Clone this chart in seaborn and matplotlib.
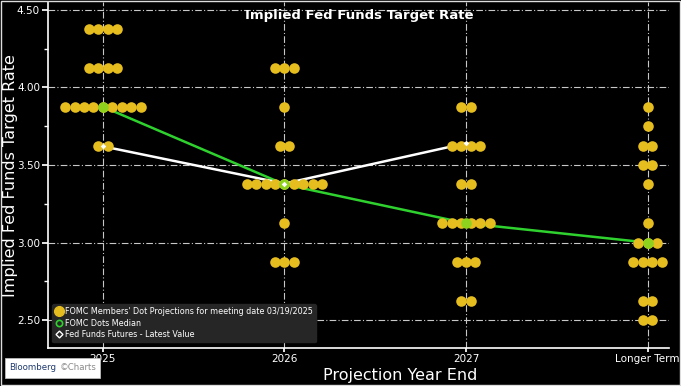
import numpy as np
import pandas as pd
import matplotlib
matplotlib.use("Agg")
import matplotlib.pyplot as plt
from matplotlib.lines import Line2D
import seaborn as sns

# Dot plot data (rate -> number of FOMC members)
categories = ["2025", "2026", "2027", "Longer Term"]
dots_2025 = {4.375: 4, 4.125: 4, 3.875: 9, 3.625: 2}
dots_2026 = {4.125: 3, 3.875: 1, 3.625: 2, 3.375: 9, 3.125: 1, 2.875: 3}
dots_2027 = {3.875: 2, 3.625: 4, 3.375: 2, 3.125: 6, 2.875: 3, 2.625: 2}
dots_longer = {3.875: 1, 3.75: 1, 3.625: 2, 3.5: 2, 3.375: 1, 3.125: 1,
               3.0: 3, 2.875: 4, 2.625: 2, 2.5: 2}
median_values = [3.875, 3.375, 3.125, 3.0]
futures_cats = ["2025", "2026", "2027"]
futures_values = [3.62, 3.38, 3.64]
yticks = [2.50, 3.00, 3.50, 4.00, 4.50]

gold = "#E5BD1F"
green = "#2FD12F"
dot_step = 0.052

rows = []
for i, d in enumerate([dots_2025, dots_2026, dots_2027, dots_longer]):
    for rate, n in d.items():
        for k in range(n):
            rows.append({"x": i + (k - (n - 1) / 2) * dot_step, "rate": rate})
dots = pd.DataFrame(rows)
med = pd.DataFrame({"x": range(len(categories)), "rate": median_values})
fut = pd.DataFrame({"x": [categories.index(c) for c in futures_cats], "rate": futures_values})

sns.set_theme(style="dark")
plt.rcParams["font.family"] = ["DejaVu Sans"]

fig = plt.figure(figsize=(6.81, 3.86), dpi=100, facecolor="black")
ax = fig.add_axes([0.071, 0.098, 0.912, 0.897])
ax.set_facecolor("black")

ax.grid(True, color="#C8C8C8", linestyle=(0, (6, 2, 1, 2)), linewidth=0.8)
ax.set_axisbelow(True)

sns.lineplot(data=med, x="x", y="rate", color=green, linewidth=1.8, ax=ax, zorder=2)
sns.lineplot(data=fut, x="x", y="rate", color="white", linewidth=1.8, ax=ax, zorder=2)
sns.scatterplot(data=dots, x="x", y="rate", color=gold, s=58, linewidth=0, ax=ax, zorder=3)
sns.scatterplot(data=med, x="x", y="rate", color="#8FD21E", s=58, linewidth=0, ax=ax, zorder=4)
sns.scatterplot(data=fut, x="x", y="rate", color="white", marker="D", s=8,
                linewidth=0, ax=ax, zorder=5)

ax.set_xlim(-0.3, 3.12)
ax.set_ylim(2.32, 4.55)
ax.set_xticks(range(len(categories)))
ax.set_xticklabels(categories)
ax.set_yticks(yticks)
ax.set_yticklabels([f"{v:.2f}" for v in yticks])
ax.set_yticks([2.75, 3.25, 3.75, 4.25], minor=True)
ax.tick_params(axis="both", colors="white", labelsize=7.5, length=4, direction="out",
               left=True, bottom=True, pad=2)
ax.tick_params(axis="x", length=3, pad=1)
ax.tick_params(axis="y", which="minor", colors="white", length=3, left=True)
for s in ["top", "right"]:
    ax.spines[s].set_visible(False)
for s in ["left", "bottom"]:
    ax.spines[s].set_color("white")
    ax.spines[s].set_linewidth(1.2)

ax.set_xlabel("")
ax.set_ylabel("")
fig.text(0.016, 0.545, "Implied Fed Funds Target Rate", rotation=90, color="white",
         fontsize=11.5, ha="center", va="center")
fig.text(0.588, 0.028, "Projection Year End", color="white", fontsize=11.5,
         ha="center", va="center")
ax.text(0.5, 0.962, "Implied Fed Funds Target Rate", transform=ax.transAxes,
        color="white", fontsize=9.5, fontweight="bold", ha="center", va="center")

handles = [
    Line2D([], [], marker="o", color=gold, linestyle="", markersize=7),
    Line2D([], [], marker="o", markerfacecolor="none", markeredgecolor=green,
           linestyle="", markersize=4.5, markeredgewidth=1.2),
    Line2D([], [], marker="D", markerfacecolor="none", markeredgecolor="white",
           linestyle="", markersize=3.5, markeredgewidth=1),
]
labels = ["FOMC Members' Dot Projections for meeting date 03/19/2025",
          "FOMC Dots Median",
          "Fed Funds Futures - Latest Value"]
leg = ax.legend(handles, labels, loc="lower left", bbox_to_anchor=(0.006, 0.017),
                fontsize=5.8, frameon=True, facecolor="#262626", edgecolor="#262626",
                framealpha=1, handletextpad=0.2, labelspacing=0.3,
                borderpad=0.4, handlelength=1.0, borderaxespad=0)
for t in leg.get_texts():
    t.set_color("white")

# Bloomberg badge
fig.patches.append(plt.Rectangle((0.007, 0.021), 0.14, 0.052, transform=fig.transFigure,
                                 facecolor="white", edgecolor="#BBBBBB", linewidth=0.6))
fig.text(0.014, 0.047, "Bloomberg", color="#1F3A6E", fontsize=6.2, ha="left", va="center")
fig.text(0.088, 0.047, "\u00a9Charts", color="#8A8A8A", fontsize=6.2, ha="left", va="center")

fig.patches.append(plt.Rectangle((0.002, 0.002), 0.996, 0.996, transform=fig.transFigure,
                                 fill=False, edgecolor="#DDDDDD", linewidth=1))

fig.savefig("out.png", dpi=100, facecolor="black")
